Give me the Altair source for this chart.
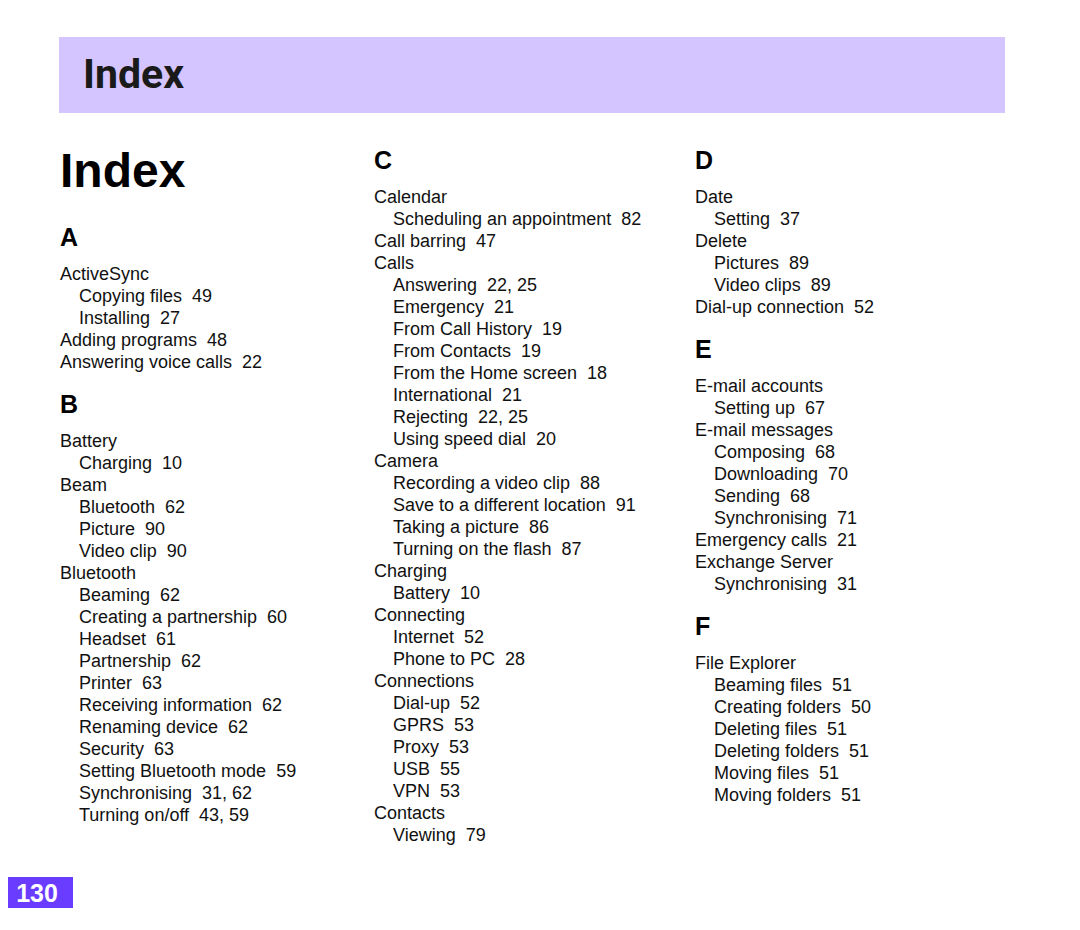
import altair as alt
import pandas as pd

# ---------------- data ----------------
page_title = "Index"
page_number = "130"

# (term, pages, level) level 0 = main entry, 1 = sub entry
A_entries = [
    ("ActiveSync", "", 0),
    ("Copying files", "49", 1),
    ("Installing", "27", 1),
    ("Adding programs", "48", 0),
    ("Answering voice calls", "22", 0),
]
B_entries = [
    ("Battery", "", 0),
    ("Charging", "10", 1),
    ("Beam", "", 0),
    ("Bluetooth", "62", 1),
    ("Picture", "90", 1),
    ("Video clip", "90", 1),
    ("Bluetooth", "", 0),
    ("Beaming", "62", 1),
    ("Creating a partnership", "60", 1),
    ("Headset", "61", 1),
    ("Partnership", "62", 1),
    ("Printer", "63", 1),
    ("Receiving information", "62", 1),
    ("Renaming device", "62", 1),
    ("Security", "63", 1),
    ("Setting Bluetooth mode", "59", 1),
    ("Synchronising", "31, 62", 1),
    ("Turning on/off", "43, 59", 1),
]
C_entries = [
    ("Calendar", "", 0),
    ("Scheduling an appointment", "82", 1),
    ("Call barring", "47", 0),
    ("Calls", "", 0),
    ("Answering", "22, 25", 1),
    ("Emergency", "21", 1),
    ("From Call History", "19", 1),
    ("From Contacts", "19", 1),
    ("From the Home screen", "18", 1),
    ("International", "21", 1),
    ("Rejecting", "22, 25", 1),
    ("Using speed dial", "20", 1),
    ("Camera", "", 0),
    ("Recording a video clip", "88", 1),
    ("Save to a different location", "91", 1),
    ("Taking a picture", "86", 1),
    ("Turning on the flash", "87", 1),
    ("Charging", "", 0),
    ("Battery", "10", 1),
    ("Connecting", "", 0),
    ("Internet", "52", 1),
    ("Phone to PC", "28", 1),
    ("Connections", "", 0),
    ("Dial-up", "52", 1),
    ("GPRS", "53", 1),
    ("Proxy", "53", 1),
    ("USB", "55", 1),
    ("VPN", "53", 1),
    ("Contacts", "", 0),
    ("Viewing", "79", 1),
]
D_entries = [
    ("Date", "", 0),
    ("Setting", "37", 1),
    ("Delete", "", 0),
    ("Pictures", "89", 1),
    ("Video clips", "89", 1),
    ("Dial-up connection", "52", 0),
]
E_entries = [
    ("E-mail accounts", "", 0),
    ("Setting up", "67", 1),
    ("E-mail messages", "", 0),
    ("Composing", "68", 1),
    ("Downloading", "70", 1),
    ("Sending", "68", 1),
    ("Synchronising", "71", 1),
    ("Emergency calls", "21", 0),
    ("Exchange Server", "", 0),
    ("Synchronising", "31", 1),
]
F_entries = [
    ("File Explorer", "", 0),
    ("Beaming files", "51", 1),
    ("Creating folders", "50", 1),
    ("Deleting files", "51", 1),
    ("Deleting folders", "51", 1),
    ("Moving files", "51", 1),
    ("Moving folders", "51", 1),
]

columns = [
    [("A", A_entries), ("B", B_entries)],
    [("C", C_entries)],
    [("D", D_entries), ("E", E_entries), ("F", F_entries)],
]

# ---------------- layout ----------------
COL_X = [60, 374, 695]
COL_START = [246, 169, 169]   # baseline of first letter heading
INDENT = 19
LINE = 22
HEAD_TO_ENTRY = 34
ENTRY_TO_HEAD = 45

head_rows, entry_rows = [], []
for ci, sections in enumerate(columns):
    y = COL_START[ci]
    for si, (letter, entries) in enumerate(sections):
        if si > 0:
            y += ENTRY_TO_HEAD
        head_rows.append({"x": COL_X[ci], "y": y, "label": letter})
        y += HEAD_TO_ENTRY
        for ei, (term, pages, level) in enumerate(entries):
            if ei > 0:
                y += LINE
            label = term + ("\u00a0 " + pages if pages else "")
            entry_rows.append({"x": COL_X[ci] + INDENT * level, "y": y, "label": label})

heads = pd.DataFrame(head_rows)
entries = pd.DataFrame(entry_rows)

W, H = 1064, 914
xs = alt.Scale(domain=[8, 8 + W], nice=False, zero=False)
ys = alt.Scale(domain=[8, 8 + H], nice=False, zero=False, reverse=True)
X = lambda f: alt.X(f, type="quantitative", scale=xs, axis=None)
Y = lambda f: alt.Y(f, type="quantitative", scale=ys, axis=None)

boxes = pd.DataFrame([
    {"x": 59, "x2": 1005, "y": 37, "y2": 113, "kind": "header"},
    {"x": 8, "x2": 73, "y": 877, "y2": 908, "kind": "page"},
])

box_layer = alt.Chart(boxes).mark_rect().encode(
    x=X("x"), x2="x2", y=Y("y"), y2="y2",
    color=alt.Color("kind:N", scale=alt.Scale(domain=["header", "page"],
                                              range=["#d4c4ff", "#6a3cff"]), legend=None),
)

header_text = alt.Chart(pd.DataFrame([{"x": 83, "y": 88, "label": page_title}])).mark_text(
    align="left", baseline="alphabetic", fontSize=41, fontWeight="bold",
    font="Roboto", color="#1a1a1a",
).encode(x=X("x"), y=Y("y"), text="label:N")

big_title = alt.Chart(pd.DataFrame([{"x": 60, "y": 187, "label": page_title}])).mark_text(
    align="left", baseline="alphabetic", fontSize=48, fontWeight="bold",
    font="Liberation Sans", color="#000000",
).encode(x=X("x"), y=Y("y"), text="label:N")

page_text = alt.Chart(pd.DataFrame([{"x": 37, "y": 902, "label": page_number}])).mark_text(
    align="center", baseline="alphabetic", fontSize=25, fontWeight="bold",
    font="Liberation Sans", color="#ffffff",
).encode(x=X("x"), y=Y("y"), text="label:N")

head_layer = alt.Chart(heads).mark_text(
    align="left", baseline="alphabetic", fontSize=25, fontWeight="bold",
    font="Liberation Sans", color="#000000",
).encode(x=X("x"), y=Y("y"), text="label:N")

entry_layer = alt.Chart(entries).mark_text(
    align="left", baseline="alphabetic", fontSize=18,
    font="Liberation Sans", color="#111111",
).encode(x=X("x"), y=Y("y"), text="label:N")

chart = alt.layer(
    box_layer, header_text, big_title, page_text, head_layer, entry_layer
).properties(
    width=W, height=H, padding=0, autosize=alt.AutoSizeParams(type="none"),
).configure_view(stroke=None)

chart.save("out.html", embed_options={"renderer": "svg", "actions": False})
